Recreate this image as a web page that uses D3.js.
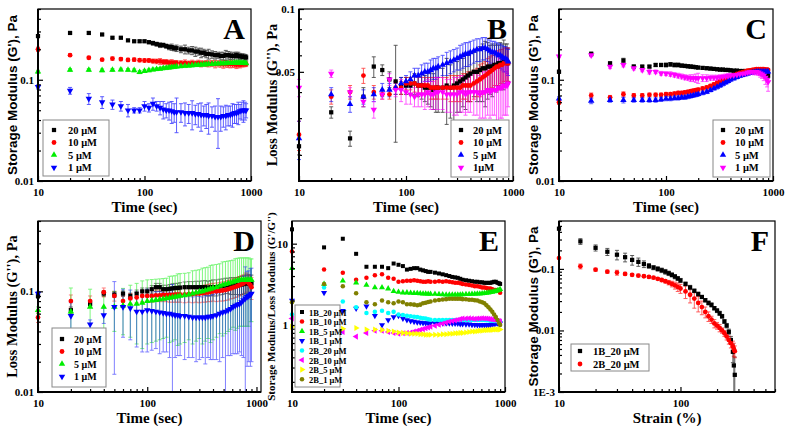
<!DOCTYPE html>
<html><head><meta charset="utf-8">
<script src="https://cdn.jsdelivr.net/npm/d3@7"></script>
<style>body{margin:0;background:#fff}svg{display:block}</style>
</head><body><svg id="c" width="787" height="426"></svg>
<script>
// ---------- DATA ----------
const T = [10,20,30,40,50,60,70,80,90,100,110,120,130,140,150,160,170,180,190,200,220,240,260,280,300,320,340,360,380,400,430,460,490,520,550,580,610,640,670,700,730,760,790,820,850,880,900];
const concLabels = ["20 μM","10 μM","5 μM","1 μM"];
const concLabelsB = ["20 μM","10 μM","5 μM","1μM"];
const eLabels = ["1B_20 μM","1B_10 μM","1B_5 μM","1B_1 μM","2B_20 μM","2B_10 μM","2B_5 μM","2B_1 μM"];
const fLabels = ["1B_20 μM","2B_20 μM"];

// Panel A  (G', Pa)
const a20 = [0.27,0.29,0.29,0.28,0.26,0.26,0.245,0.24,0.24,0.24,0.235,0.23,0.225,0.22,0.22,0.215,0.21,0.21,0.205,0.205,0.2,0.2,0.195,0.195,0.19,0.19,0.185,0.185,0.18,0.18,0.178,0.175,0.175,0.172,0.172,0.175,0.175,0.173,0.172,0.172,0.175,0.172,0.17,0.17,0.168,0.168,0.166];
const a20e = [0.005,0.005,0.008,0.005,0.005,0.005,0.005,0.005,0.006,0.006,0.008,0.01,0.01,0.012,0.01,0.01,0.012,0.015,0.012,0.015,0.015,0.02,0.015,0.018,0.02,0.015,0.02,0.015,0.015,0.02,0.015,0.015,0.012,0.015,0.015,0.02,0.015,0.015,0.012,0.015,0.012,0.015,0.012,0.01,0.012,0.01,0.01];
const a10 = [0.2,0.175,0.165,0.158,0.162,0.16,0.157,0.158,0.156,0.155,0.155,0.153,0.152,0.152,0.15,0.15,0.148,0.148,0.147,0.147,0.146,0.147,0.145,0.146,0.145,0.146,0.144,0.145,0.145,0.144,0.145,0.143,0.144,0.143,0.142,0.143,0.142,0.143,0.142,0.142,0.141,0.142,0.141,0.142,0.142,0.143,0.143];
const a10e = [0.01,0.005,0.005,0.004,0.006,0.006,0.006,0.006,0.006,0.006,0.006,0.007,0.008,0.01,0.008,0.008,0.008,0.01,0.008,0.008,0.008,0.01,0.008,0.01,0.008,0.01,0.01,0.008,0.01,0.01,0.01,0.012,0.01,0.01,0.012,0.01,0.01,0.012,0.01,0.01,0.012,0.01,0.01,0.008,0.008,0.008,0.008];
const a5 = [0.12,0.125,0.125,0.124,0.125,0.126,0.125,0.124,0.119,0.122,0.124,0.126,0.127,0.128,0.13,0.131,0.132,0.133,0.134,0.135,0.136,0.137,0.138,0.139,0.14,0.14,0.141,0.142,0.142,0.143,0.143,0.144,0.144,0.145,0.145,0.145,0.146,0.146,0.146,0.147,0.147,0.147,0.147,0.146,0.147,0.146,0.145];
const a5e = [0.004,0.004,0.004,0.004,0.004,0.004,0.004,0.004,0.004,0.004,0.004,0.004,0.004,0.004,0.005,0.005,0.005,0.005,0.005,0.005,0.005,0.005,0.005,0.005,0.005,0.005,0.005,0.005,0.005,0.005,0.005,0.005,0.005,0.005,0.005,0.005,0.005,0.005,0.005,0.005,0.005,0.005,0.005,0.005,0.005,0.005,0.005];
const a1 = [0.085,0.078,0.065,0.06,0.057,0.055,0.05,0.05,0.05,0.055,0.053,0.058,0.055,0.053,0.051,0.05,0.05,0.049,0.048,0.048,0.048,0.047,0.047,0.047,0.046,0.046,0.045,0.045,0.045,0.044,0.044,0.043,0.043,0.043,0.044,0.044,0.045,0.045,0.046,0.047,0.047,0.048,0.049,0.05,0.05,0.05,0.05];
const a1e = [0.004,0.006,0.008,0.008,0.006,0.006,0.007,0.003,0.003,0.006,0.005,0.008,0.006,0.008,0.01,0.008,0.01,0.012,0.01,0.018,0.01,0.012,0.01,0.015,0.01,0.012,0.014,0.01,0.012,0.015,0.01,0.012,0.022,0.012,0.01,0.012,0.01,0.01,0.012,0.01,0.01,0.012,0.008,0.01,0.012,0.01,0.008];

// Panel B  (G'', Pa)
const b20 = [0.022,0.032,0.024,0.038,0.053,0.051,0.046,0.045,0.043,0.043,0.043,0.044,0.043,0.043,0.042,0.042,0.042,0.041,0.042,0.042,0.042,0.043,0.042,0.043,0.044,0.045,0.046,0.047,0.048,0.049,0.05,0.05,0.051,0.052,0.052,0.053,0.053,0.053,0.054,0.054,0.055,0.055,0.055,0.056,0.056,0.056,0.055];
const b20e = [0.002,0.002,0.002,0.004,0.006,0.003,0.004,0.022,0.004,0.004,0.004,0.005,0.005,0.006,0.006,0.007,0.008,0.008,0.01,0.01,0.01,0.015,0.012,0.014,0.012,0.013,0.012,0.014,0.012,0.013,0.012,0.014,0.015,0.016,0.018,0.016,0.014,0.015,0.013,0.014,0.012,0.014,0.013,0.015,0.012,0.012,0.01];
const b10 = [0.025,0.038,0.04,0.048,0.04,0.039,0.039,0.042,0.042,0.044,0.044,0.044,0.043,0.043,0.043,0.043,0.042,0.042,0.042,0.042,0.042,0.042,0.042,0.042,0.042,0.042,0.043,0.043,0.043,0.043,0.044,0.045,0.046,0.047,0.048,0.049,0.05,0.051,0.052,0.053,0.053,0.054,0.054,0.055,0.055,0.055,0.055];
const b10e = [0.004,0.003,0.003,0.004,0.003,0.002,0.002,0.003,0.003,0.003,0.003,0.004,0.004,0.004,0.004,0.004,0.005,0.005,0.005,0.005,0.005,0.005,0.006,0.006,0.006,0.006,0.006,0.006,0.007,0.007,0.007,0.007,0.008,0.008,0.008,0.009,0.009,0.009,0.009,0.01,0.01,0.01,0.01,0.01,0.01,0.01,0.01];
const b5 = [0.024,0.039,0.035,0.038,0.039,0.041,0.041,0.042,0.044,0.045,0.046,0.048,0.048,0.049,0.05,0.05,0.051,0.052,0.052,0.053,0.054,0.055,0.056,0.057,0.058,0.059,0.06,0.061,0.061,0.062,0.063,0.064,0.064,0.065,0.065,0.064,0.063,0.062,0.062,0.061,0.06,0.06,0.059,0.058,0.058,0.057,0.056];
const b5e = [0.005,0.003,0.003,0.003,0.003,0.003,0.003,0.003,0.003,0.003,0.004,0.004,0.004,0.005,0.005,0.005,0.006,0.006,0.006,0.006,0.006,0.007,0.007,0.007,0.007,0.008,0.008,0.008,0.008,0.008,0.008,0.008,0.008,0.008,0.008,0.008,0.008,0.008,0.008,0.008,0.008,0.008,0.008,0.008,0.008,0.008,0.008];
const b1 = [0.042,0.049,0.04,0.036,0.033,0.039,0.046,0.041,0.041,0.04,0.039,0.038,0.039,0.039,0.039,0.04,0.039,0.039,0.04,0.04,0.04,0.039,0.039,0.039,0.039,0.04,0.04,0.039,0.04,0.04,0.04,0.04,0.039,0.04,0.04,0.041,0.04,0.041,0.041,0.041,0.042,0.042,0.042,0.043,0.043,0.043,0.044];
const b1e = [0.004,0.002,0.002,0.002,0.003,0.002,0.003,0.003,0.005,0.005,0.004,0.004,0.005,0.005,0.006,0.006,0.006,0.006,0.007,0.007,0.007,0.007,0.007,0.008,0.008,0.008,0.008,0.008,0.008,0.008,0.009,0.009,0.009,0.01,0.01,0.01,0.01,0.01,0.01,0.012,0.02,0.012,0.012,0.012,0.012,0.012,0.01];

// Panel C  (G', Pa)
const c20 = [0.12,0.18,0.145,0.155,0.135,0.135,0.135,0.14,0.14,0.14,0.142,0.14,0.14,0.138,0.137,0.136,0.135,0.134,0.133,0.132,0.131,0.13,0.129,0.128,0.127,0.126,0.126,0.125,0.125,0.124,0.123,0.123,0.122,0.122,0.122,0.121,0.121,0.12,0.12,0.12,0.12,0.119,0.118,0.117,0.115,0.113,0.11];
const c20e = [0.004,0.008,0.006,0.008,0.005,0.004,0.004,0.005,0.005,0.006,0.006,0.006,0.006,0.005,0.005,0.005,0.005,0.005,0.004,0.004,0.004,0.004,0.004,0.004,0.004,0.004,0.004,0.004,0.004,0.004,0.004,0.004,0.004,0.004,0.004,0.004,0.004,0.004,0.004,0.004,0.004,0.004,0.004,0.004,0.004,0.004,0.004];
const c10 = [0.06,0.07,0.067,0.072,0.07,0.07,0.071,0.071,0.071,0.072,0.072,0.073,0.074,0.074,0.075,0.076,0.077,0.078,0.079,0.08,0.082,0.084,0.087,0.09,0.093,0.096,0.099,0.102,0.105,0.108,0.111,0.114,0.117,0.119,0.121,0.123,0.124,0.125,0.126,0.127,0.127,0.127,0.127,0.127,0.126,0.126,0.125];
const c10e = [0.003,0.004,0.003,0.004,0.003,0.003,0.003,0.003,0.003,0.003,0.003,0.003,0.003,0.003,0.003,0.003,0.003,0.003,0.003,0.003,0.003,0.003,0.003,0.003,0.004,0.004,0.004,0.004,0.004,0.004,0.004,0.004,0.004,0.004,0.004,0.004,0.004,0.004,0.004,0.004,0.004,0.004,0.004,0.004,0.004,0.004,0.004];
const c5 = [0.065,0.062,0.063,0.063,0.063,0.063,0.063,0.063,0.064,0.065,0.065,0.066,0.066,0.067,0.067,0.068,0.069,0.07,0.071,0.072,0.074,0.076,0.079,0.082,0.085,0.088,0.091,0.094,0.097,0.1,0.103,0.106,0.109,0.111,0.113,0.115,0.117,0.118,0.119,0.12,0.12,0.12,0.12,0.12,0.12,0.12,0.12];
const c5e = [0.003,0.004,0.003,0.004,0.003,0.003,0.003,0.003,0.003,0.003,0.003,0.003,0.003,0.003,0.003,0.003,0.003,0.003,0.003,0.003,0.003,0.003,0.003,0.003,0.004,0.004,0.004,0.004,0.004,0.004,0.004,0.004,0.004,0.004,0.004,0.004,0.004,0.004,0.004,0.004,0.004,0.004,0.004,0.004,0.004,0.004,0.004];
const c1 = [0.17,0.175,0.135,0.14,0.13,0.125,0.12,0.12,0.116,0.115,0.114,0.112,0.11,0.108,0.106,0.105,0.104,0.104,0.104,0.104,0.104,0.104,0.105,0.105,0.105,0.106,0.107,0.108,0.109,0.11,0.111,0.112,0.114,0.115,0.116,0.118,0.119,0.12,0.12,0.12,0.118,0.116,0.113,0.11,0.105,0.1,0.095];
const c1e = [0.005,0.006,0.006,0.006,0.005,0.005,0.006,0.005,0.005,0.005,0.006,0.006,0.006,0.006,0.006,0.006,0.008,0.008,0.01,0.012,0.008,0.008,0.006,0.006,0.006,0.006,0.006,0.006,0.006,0.006,0.006,0.006,0.006,0.006,0.006,0.006,0.006,0.006,0.008,0.008,0.008,0.01,0.01,0.012,0.015,0.015,0.018];

// Panel D  (G'', Pa)
const d20 = [0.09,0.065,0.075,0.095,0.093,0.095,0.09,0.095,0.1,0.1,0.105,0.11,0.11,0.105,0.105,0.106,0.107,0.108,0.108,0.109,0.11,0.11,0.11,0.11,0.11,0.11,0.11,0.108,0.11,0.11,0.11,0.112,0.113,0.115,0.115,0.115,0.115,0.115,0.115,0.116,0.117,0.118,0.12,0.12,0.12,0.12,0.12];
const d20e = [0.005,0.005,0.005,0.006,0.006,0.006,0.006,0.008,0.008,0.008,0.009,0.01,0.01,0.01,0.01,0.011,0.012,0.012,0.012,0.013,0.014,0.015,0.015,0.016,0.016,0.017,0.018,0.018,0.018,0.02,0.02,0.02,0.02,0.02,0.02,0.022,0.022,0.022,0.022,0.024,0.024,0.024,0.025,0.025,0.025,0.025,0.025];
const d10 = [0.055,0.08,0.08,0.098,0.09,0.08,0.085,0.087,0.09,0.09,0.09,0.091,0.091,0.092,0.092,0.092,0.092,0.093,0.093,0.093,0.093,0.094,0.094,0.095,0.095,0.096,0.097,0.098,0.099,0.1,0.1,0.101,0.102,0.103,0.105,0.107,0.109,0.111,0.113,0.115,0.118,0.12,0.125,0.125,0.12,0.115,0.11];
const d10e = [0.006,0.012,0.01,0.01,0.01,0.01,0.01,0.01,0.011,0.011,0.012,0.012,0.012,0.013,0.013,0.014,0.014,0.015,0.015,0.015,0.016,0.016,0.017,0.017,0.018,0.018,0.019,0.019,0.02,0.02,0.021,0.021,0.022,0.022,0.023,0.023,0.024,0.024,0.025,0.025,0.026,0.026,0.027,0.027,0.027,0.027,0.027];
const d5 = [0.065,0.063,0.07,0.07,0.07,0.072,0.075,0.075,0.077,0.08,0.081,0.082,0.083,0.084,0.085,0.086,0.087,0.088,0.089,0.09,0.091,0.093,0.095,0.097,0.099,0.1,0.102,0.104,0.106,0.108,0.11,0.113,0.116,0.118,0.12,0.122,0.124,0.126,0.128,0.13,0.13,0.13,0.13,0.13,0.13,0.13,0.13];
const d5e = [0.005,0.045,0.035,0.03,0.03,0.035,0.04,0.045,0.05,0.05,0.05,0.05,0.05,0.05,0.05,0.055,0.055,0.055,0.06,0.06,0.06,0.06,0.065,0.065,0.065,0.07,0.07,0.07,0.075,0.075,0.075,0.075,0.08,0.08,0.08,0.08,0.08,0.085,0.085,0.085,0.085,0.085,0.085,0.085,0.085,0.08,0.08];
const d1 = [0.095,0.057,0.047,0.058,0.07,0.07,0.068,0.063,0.063,0.065,0.064,0.063,0.062,0.061,0.06,0.06,0.059,0.058,0.058,0.057,0.057,0.056,0.055,0.055,0.055,0.055,0.055,0.056,0.056,0.057,0.058,0.06,0.062,0.063,0.065,0.067,0.07,0.072,0.074,0.075,0.078,0.082,0.085,0.088,0.09,0.093,0.095];
const d1e = [0.005,0.02,0.005,0.01,0.055,0.035,0.035,0.035,0.038,0.04,0.038,0.036,0.038,0.036,0.035,0.038,0.058,0.036,0.035,0.034,0.036,0.034,0.033,0.035,0.034,0.033,0.036,0.034,0.035,0.036,0.037,0.04,0.04,0.058,0.042,0.044,0.046,0.048,0.05,0.05,0.055,0.06,0.09,0.07,0.07,0.075,0.075];

// Panel E  (G'/G'')
const e1b20 = [15,9,11.5,7.5,5.2,5.2,5.2,5,5.7,5.5,5.3,4.8,4.9,5,5,4.8,4.7,4.6,4.5,4.5,4.4,4.3,4.2,4.1,4,3.9,3.85,3.8,3.7,3.6,3.55,3.5,3.45,3.4,3.4,3.35,3.35,3.3,3.3,3.3,3.3,3.35,3.4,3.4,3.3,3.25,3.2];
const e1b10 = [8,4.8,4.4,3.6,3.8,4.1,4.2,3.8,3.7,3.4,3.45,3.5,3.5,3.55,3.5,3.45,3.4,3.4,3.45,3.4,3.4,3.45,3.4,3.45,3.4,3.35,3.3,3.3,3.25,3.2,3.15,3.1,3.05,3,3,2.95,2.9,2.9,2.85,2.8,2.8,2.75,2.7,2.7,2.65,2.6,2.5];
const e1b5 = [5,3.2,3.5,3.3,3.1,2.9,2.9,2.8,2.6,2.55,2.5,2.5,2.48,2.46,2.45,2.44,2.43,2.42,2.41,2.4,2.4,2.38,2.37,2.36,2.35,2.35,2.35,2.35,2.36,2.37,2.38,2.39,2.4,2.41,2.42,2.43,2.44,2.46,2.48,2.5,2.52,2.55,2.58,2.6,2.65,2.7,2.75];
const e1b1 = [2,2.5,1.5,1.6,1.7,1.3,1.0,1.15,1.25,1.3,1.2,1.15,1.12,1.1,1.08,1.07,1.06,1.06,1.05,1.05,1.05,1.05,1.05,1.05,1.05,1.04,1.04,1.04,1.03,1.03,1.02,1.02,1.01,1.01,1.0,1.0,1.0,1.0,1.0,1.0,1.01,1.02,1.03,1.04,1.05,1.05,1.05];
const e2b20 = [1.35,2.9,1.95,1.65,1.4,1.45,1.5,1.4,1.45,1.35,1.33,1.3,1.28,1.26,1.25,1.23,1.21,1.2,1.18,1.16,1.15,1.15,1.15,1.15,1.15,1.15,1.15,1.15,1.15,1.15,1.15,1.15,1.15,1.15,1.15,1.15,1.15,1.15,1.14,1.14,1.13,1.13,1.12,1.12,1.11,1.1,1.1];
const e2b10 = [1.2,0.85,0.82,0.72,0.8,0.85,0.85,0.82,0.8,0.78,0.79,0.8,0.81,0.83,0.85,0.87,0.89,0.91,0.93,0.95,0.98,1.01,1.04,1.07,1.1,1.12,1.14,1.16,1.18,1.2,1.2,1.21,1.2,1.19,1.2,1.2,1.21,1.2,1.2,1.19,1.18,1.17,1.16,1.15,1.13,1.12,1.1];
const e2b5 = [0.95,0.9,0.9,0.92,0.88,0.88,0.87,0.85,0.83,0.81,0.8,0.79,0.78,0.78,0.78,0.77,0.77,0.76,0.76,0.76,0.76,0.76,0.77,0.77,0.78,0.78,0.79,0.79,0.8,0.8,0.81,0.82,0.83,0.83,0.84,0.85,0.85,0.86,0.86,0.87,0.87,0.87,0.88,0.88,0.88,0.88,0.88];
const e2b1 = [1.9,3.2,3.0,2.45,1.9,1.8,2.0,1.9,1.85,1.95,1.9,1.8,1.8,1.78,1.75,1.78,1.85,1.88,1.92,1.95,2.0,2.03,2.06,2.08,2.1,2.1,2.1,2.1,2.1,2.08,2.07,2.05,2.04,2.02,2.0,1.95,1.9,1.85,1.75,1.65,1.55,1.45,1.35,1.25,1.15,1.05,1.0];

// Panel F  (G' vs strain %)
const S = [10,15,20,25,30,35,40,45,50,55,60,65,70,75,80,85,90,95,100,110,120,130,140,150,160,170,180,190,200,210,220,230,240,250,260,270,275,280];
const f1 = [0.45,0.28,0.22,0.19,0.17,0.155,0.14,0.13,0.12,0.112,0.105,0.1,0.095,0.09,0.085,0.08,0.075,0.07,0.065,0.057,0.05,0.044,0.039,0.035,0.031,0.028,0.026,0.023,0.021,0.019,0.017,0.014,0.012,0.0095,0.007,0.0045,0.0027,0.0019];
const f1e = [0.01,0.03,0.025,0.025,0.03,0.025,0.025,0.02,0.015,0.01,0.008,0.008,0.008,0.008,0.007,0.006,0.006,0.005,0.005,0.004,0.004,0.003,0.003,0.002,0.002,0.002,0.002,0.0015,0.0015,0.0015,0.0012,0.001,0.001,0.001,0.001,0.0015,0.002,0.0018];
const f2 = [0.15,0.11,0.097,0.09,0.087,0.083,0.08,0.078,0.076,0.074,0.072,0.069,0.066,0.063,0.06,0.057,0.054,0.051,0.048,0.043,0.038,0.033,0.028,0.024,0.02,0.017,0.015,0.013,0.012,0.011,0.01,0.009,0.008,0.007,0.0062,0.0055,0.005,0.0046];
const f2e = [0.003,0.01,0.005,0.005,0.008,0.005,0.004,0.004,0.003,0.003,0.003,0.003,0.004,0.004,0.005,0.006,0.007,0.008,0.008,0.01,0.01,0.01,0.008,0.006,0.004,0.003,0.002,0.002,0.0015,0.0015,0.001,0.001,0.001,0.001,0.001,0.0012,0.0012,0.001];

// ---------- DRAW ----------
const svg = d3.select("#c");
const SERIF = "'Liberation Serif','Times New Roman',serif";
const SANS = "'Liberation Sans',Arial,sans-serif";
const COL = {k:"#000000", r:"#ff0000", g:"#00ee00", b:"#0000ff", m:"#ff00ff", c:"#00ffff", y:"#ffff00", o:"#808000"};

function symPath(kind, size){
  const map = {sq:d3.symbolSquare, ci:d3.symbolCircle, tu:d3.symbolTriangle, td:d3.symbolTriangle, tl:d3.symbolTriangle, tr:d3.symbolTriangle, hx:d3.symbolCircle};
  return d3.symbol().type(map[kind]).size(size)();
}
function symRot(kind){ return {td:180, tl:-90, tr:90}[kind] || 0; }

function minorTicks(lo, hi, majors){
  const out=[];
  for(let e=Math.floor(Math.log10(lo))-1; e<=Math.ceil(Math.log10(hi)); e++){
    for(let m=1;m<10;m++){
      const v=+(m*Math.pow(10,e)).toPrecision(6);
      if(v>=lo*0.999 && v<=hi*1.001 && !majors.some(M=>Math.abs(M-v)/M<1e-6)) out.push(v);
    }
  }
  return out;
}

function drawPanel(p){
  const g = svg.append("g");
  const x = d3.scaleLog().domain(p.xDom).range([p.l, p.r]);
  const y = d3.scaleLog().domain(p.yDom).range([p.b, p.t]);
  const ms = p.msize || 18;
  p.series.forEach(s=>{
    if(s.err){
      const eg = g.append("g").attr("stroke", s.color).attr("stroke-width",0.9).attr("opacity",p.errOp||0.7);
      s.y.forEach((v,i)=>{
        const e=s.err[i]; const cx=x(s.x[i]);
        const lo = Math.max(v-e, p.yDom[0]); const hi = Math.min(v+e, p.yDom[1]);
        eg.append("line").attr("x1",cx).attr("x2",cx).attr("y1",y(lo)).attr("y2",y(hi));
        if (v-e > p.yDom[0]) eg.append("line").attr("x1",cx-2).attr("x2",cx+2).attr("y1",y(lo)).attr("y2",y(lo));
        eg.append("line").attr("x1",cx-2).attr("x2",cx+2).attr("y1",y(hi)).attr("y2",y(hi));
      });
    }
  });
  p.series.forEach(s=>{
    const d = symPath(s.sym, ms), rot = symRot(s.sym);
    g.append("g").selectAll("path").data(s.y.map((v,i)=>[s.x[i],v])).join("path")
      .attr("d", d).attr("fill", s.color)
      .attr("transform", dd=>`translate(${x(dd[0])},${y(dd[1])}) rotate(${rot})`);
  });
  // axes
  const xMin = minorTicks(p.xDom[0], p.xDom[1], p.xMaj);
  const yMin = minorTicks(p.yDom[0], p.yDom[1], p.yMaj);
  const axX = g.append("g").attr("transform",`translate(0,${p.b})`)
    .call(d3.axisBottom(x).tickValues(p.xMaj).tickFormat((d,i)=>p.xLab[i]).tickSizeInner(-5).tickSizeOuter(0).tickPadding(7));
  const axX2 = g.append("g").attr("transform",`translate(0,${p.b})`)
    .call(d3.axisBottom(x).tickValues(xMin).tickFormat("").tickSizeInner(-3).tickSizeOuter(0));
  const axY = g.append("g").attr("transform",`translate(${p.l},0)`)
    .call(d3.axisLeft(y).tickValues(p.yMaj).tickFormat((d,i)=>p.yLab[i]).tickSizeInner(-5).tickSizeOuter(0).tickPadding(4));
  const axY2 = g.append("g").attr("transform",`translate(${p.l},0)`)
    .call(d3.axisLeft(y).tickValues(yMin).tickFormat("").tickSizeInner(-3).tickSizeOuter(0));
  [axX,axX2,axY,axY2].forEach(a=>{
    a.select(".domain").remove();
    a.selectAll("line").attr("stroke","#000").attr("stroke-width",1.2);
    a.selectAll("text").attr("font-family",SERIF).attr("font-weight","bold").attr("font-size",11).attr("fill","#000");
  });
  g.append("rect").attr("x",p.l).attr("y",p.t).attr("width",p.r-p.l).attr("height",p.b-p.t)
    .attr("fill","none").attr("stroke","#000").attr("stroke-width",1.2);
  g.append("line").attr("x1",p.l).attr("x2",p.l).attr("y1",p.t).attr("y2",p.b+1).attr("stroke","#000").attr("stroke-width",2);
  g.append("line").attr("x1",p.l-1).attr("x2",p.r).attr("y1",p.b).attr("y2",p.b).attr("stroke","#000").attr("stroke-width",2);
  // letter
  g.append("text").attr("x",p.r-6).attr("y",p.t+30).attr("text-anchor","end")
    .attr("font-family",SERIF).attr("font-weight","bold").attr("font-size",30).text(p.letter);
  // axis titles
  g.append("text").attr("x",(p.l+p.r)/2).attr("y",p.b+31).attr("text-anchor","middle")
    .attr("font-family",SERIF).attr("font-weight","bold").attr("font-size",15).text(p.xTitle);
  g.append("text").attr("transform",`translate(${p.yTitleX},${(p.t+p.b)/2}) rotate(-90)`).attr("text-anchor","middle")
    .attr("font-family",p.yFont).attr("font-weight","bold").attr("font-size",p.yFs).text(p.yTitle);
  // legend
  const L = p.leg;
  const lg = g.append("g");
  lg.append("rect").attr("x",L.x).attr("y",L.y).attr("width",L.w).attr("height",L.h)
    .attr("fill","#fff").attr("stroke","#888").attr("stroke-width",1);
  p.series.forEach((s,i)=>{
    const cy = L.y + L.pad + i*L.dy;
    lg.append("path").attr("d",symPath(s.sym, ms)).attr("fill",s.color)
      .attr("transform",`translate(${L.x+L.mx},${cy}) rotate(${symRot(s.sym)})`);
    lg.append("text").attr("x",L.x+L.tx).attr("y",cy+3.5)
      .attr("font-family",SERIF).attr("font-weight","bold").attr("font-size",L.fs).text(p.labels[i]);
  });
}

const timeCommon = {xDom:[10,1000], xMaj:[10,100,1000], xLab:["10","100","1000"], xTitle:"Time (sec)"};

drawPanel(Object.assign({}, timeCommon, {
  l:38,r:251,t:9,b:181, yDom:[0.01,0.5], yMaj:[0.01,0.1], yLab:["0.01","0.1"], letter:"A",
  yTitle:"Storage Modulus (G'), Pa", yFont:SANS, yFs:13.5, yTitleX:17,
  labels:concLabels,
  series:[{x:T,y:a20,err:a20e,color:COL.k,sym:"sq"},{x:T,y:a10,err:a10e,color:COL.r,sym:"ci"},
          {x:T,y:a5,err:a5e,color:COL.g,sym:"tu"},{x:T,y:a1,err:a1e,color:COL.b,sym:"td"}],
  leg:{x:43,y:120,w:66,h:56,pad:10,dy:12.5,mx:11,tx:25,fs:10.5}
}));
drawPanel(Object.assign({}, timeCommon, {
  l:299,r:513,t:9,b:181, yDom:[0.015,0.1], yMaj:[0.05,0.1], yLab:["0.05","0.1"], letter:"B",
  yTitle:"Loss Modulus (G''), Pa", yFont:SERIF, yFs:14.5, yTitleX:277,
  labels:concLabelsB,
  series:[{x:T,y:b20,err:b20e,color:COL.k,sym:"sq"},{x:T,y:b10,err:b10e,color:COL.r,sym:"ci"},
          {x:T,y:b5,err:b5e,color:COL.b,sym:"tu"},{x:T,y:b1,err:b1e,color:COL.m,sym:"td"}],
  leg:{x:451,y:120,w:58,h:57,pad:10,dy:12.5,mx:10,tx:22,fs:10.5}
}));
drawPanel(Object.assign({}, timeCommon, {
  l:559,r:773,t:9,b:181, yDom:[0.01,0.5], yMaj:[0.01,0.1], yLab:["0.01","0.1"], letter:"C",
  yTitle:"Storage Modulus (G'), Pa", yFont:SANS, yFs:13.5, yTitleX:538,
  labels:concLabels,
  series:[{x:T,y:c20,err:c20e,color:COL.k,sym:"sq"},{x:T,y:c10,err:c10e,color:COL.r,sym:"ci"},
          {x:T,y:c5,err:c5e,color:COL.b,sym:"tu"},{x:T,y:c1,err:c1e,color:COL.m,sym:"td"}],
  leg:{x:713,y:120,w:57,h:57,pad:10,dy:12.5,mx:10,tx:22,fs:10.5}
}));
drawPanel(Object.assign({}, timeCommon, {
  xDom:[10,1100],
  l:38,r:261,t:221,b:392, yDom:[0.01,0.5], yMaj:[0.01,0.1], yLab:["0.01","0.1"], letter:"D",
  yTitle:"Loss Modulus (G''), Pa", yFont:SERIF, yFs:14.5, yTitleX:17, errOp:0.55,
  labels:concLabels,
  series:[{x:T,y:d20,err:d20e,color:COL.k,sym:"sq"},{x:T,y:d10,err:d10e,color:COL.r,sym:"ci"},
          {x:T,y:d5,err:d5e,color:COL.g,sym:"tu"},{x:T,y:d1,err:d1e,color:COL.b,sym:"td"}],
  leg:{x:52,y:328,w:54,h:59,pad:11,dy:12.5,mx:10,tx:22,fs:10}
}));
drawPanel(Object.assign({}, timeCommon, {
  l:292,r:505,t:221,b:392, yDom:[0.15,19], yMaj:[1,10], yLab:["1","10"], letter:"E",
  yTitle:"Storage Modulus/Loss Modulus (G'/G'')", yFont:SERIF, yFs:11, yTitleX:275, msize:16,
  labels:eLabels,
  series:[{x:T,y:e1b20,color:COL.k,sym:"sq"},{x:T,y:e1b10,color:COL.r,sym:"ci"},{x:T,y:e1b5,color:COL.g,sym:"tu"},
          {x:T,y:e1b1,color:COL.b,sym:"td"},{x:T,y:e2b20,color:COL.c,sym:"ci"},{x:T,y:e2b10,color:COL.m,sym:"tl"},
          {x:T,y:e2b5,color:COL.y,sym:"tr"},{x:T,y:e2b1,color:COL.o,sym:"hx"}],
  leg:{x:295,y:305,w:45,h:82,pad:7,dy:9.6,mx:7,tx:14,fs:8.5}
}));
drawPanel({
  xDom:[10,600], xMaj:[10,100], xLab:["10","100"], xTitle:"Strain (%)",
  l:559,r:775,t:221,b:392, yDom:[0.001,0.6], yMaj:[0.001,0.01,0.1], yLab:["1E-3","0.01","0.1"], letter:"F",
  yTitle:"Storage Modulus (G'), Pa", yFont:SANS, yFs:13.5, yTitleX:538,
  labels:fLabels,
  series:[{x:S,y:f1,err:f1e,color:COL.k,sym:"sq"},{x:S,y:f2,err:f2e,color:COL.r,sym:"ci"}],
  leg:{x:571,y:344,w:78,h:27,pad:7,dy:13,mx:9,tx:22,fs:10.5}
});
</script></body></html>
